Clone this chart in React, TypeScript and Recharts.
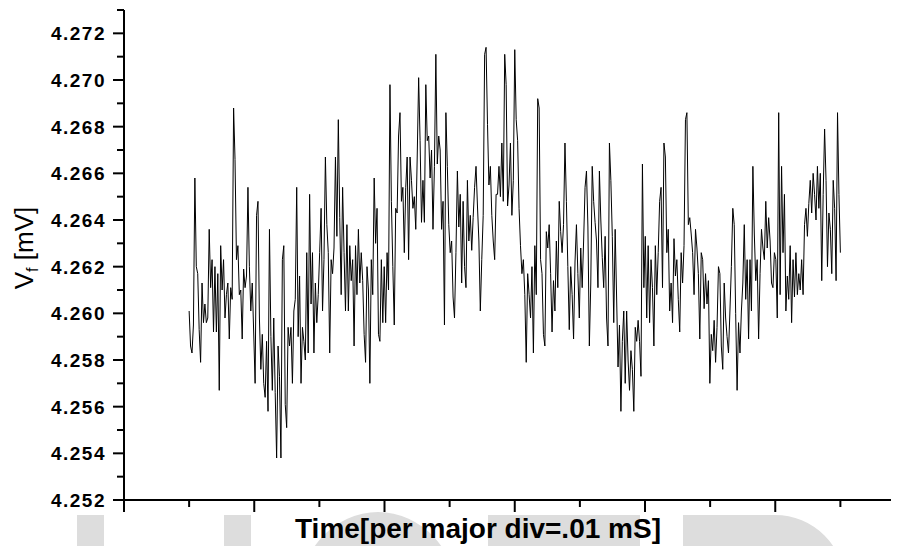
import { Line, LineChart, XAxis, YAxis } from 'recharts'

// V_f samples left to right (mV)
const segA = [
  4.2601, 4.2586, 4.2583, 4.2595, 4.2658, 4.262, 4.2617, 4.2593, 4.2579, 4.2613,
  4.2596, 4.2604, 4.2596, 4.2598, 4.2636, 4.2611, 4.2623, 4.2592, 4.262, 4.2592,
  4.2617, 4.2567, 4.2629, 4.261, 4.2623, 4.2598, 4.2608, 4.2613, 4.2589, 4.2611,
  4.2606, 4.2688, 4.2666, 4.2623, 4.2629, 4.2608, 4.261, 4.2589, 4.2619, 4.2611,
  4.2616, 4.2654, 4.262, 4.2601, 4.2613, 4.2592, 4.257, 4.2642, 4.2648, 4.2598,
  4.2576, 4.2591, 4.257, 4.2564, 4.2588, 4.2558, 4.2636, 4.259, 4.2567, 4.2598,
  4.2566, 4.2538, 4.2586, 4.2573, 4.2538, 4.2623, 4.2629, 4.2561,
]
const segB = [
  4.2551, 4.2594, 4.2586, 4.2594, 4.257, 4.2601, 4.2606, 4.2654, 4.259, 4.2616,
  4.257, 4.2594, 4.2588, 4.258, 4.2626, 4.2583, 4.2651, 4.2604, 4.2626, 4.2583,
  4.2613, 4.2596, 4.2608, 4.2626, 4.2645, 4.2601, 4.2623, 4.2667, 4.2638, 4.2626,
  4.2583, 4.2623, 4.2617, 4.2628, 4.2667, 4.2633, 4.2683, 4.2641, 4.2608, 4.2654,
  4.2626, 4.2601, 4.2638, 4.2601, 4.2629, 4.2614, 4.2623, 4.2586, 4.2629, 4.2608,
  4.2636, 4.2613, 4.2626, 4.2614, 4.2591, 4.2579, 4.262, 4.261, 4.257, 4.2623,
  4.2608, 4.2658, 4.263, 4.2645, 4.2591, 4.2588, 4.2623, 4.2596, 4.262, 4.2596,
  4.2626, 4.261, 4.2698, 4.2648,
]
const segC = [
  4.262, 4.2595, 4.2645, 4.2643, 4.2676, 4.2686, 4.2648, 4.2654, 4.2626, 4.2654,
  4.2667, 4.2623, 4.2667, 4.2657, 4.2645, 4.265, 4.2636, 4.2667, 4.2701, 4.2674,
  4.2639, 4.2657, 4.2639, 4.2698, 4.2674, 4.2676, 4.2658, 4.267, 4.2636, 4.2663,
  4.2711, 4.2664, 4.2676, 4.267, 4.2636, 4.2648, 4.2595, 4.2686, 4.2663, 4.2638,
  4.2626, 4.2631, 4.2607, 4.2598, 4.2626, 4.2661, 4.2637, 4.2651, 4.2613, 4.2648,
  4.262, 4.2611, 4.2657, 4.2631, 4.2642, 4.2627, 4.2641, 4.2654, 4.2663, 4.2646,
  4.2631, 4.2601, 4.2623, 4.2642, 4.2711, 4.2714, 4.2681, 4.2655, 4.2663, 4.2642,
  4.2631, 4.2623, 4.2651, 4.2651, 4.2663, 4.265, 4.2673, 4.2648,
]
const segD = [
  4.2711, 4.2698, 4.2646, 4.2655, 4.2673, 4.2642, 4.2657, 4.2713, 4.2683, 4.2674,
  4.2645, 4.2629, 4.2617, 4.2623, 4.2608, 4.2579, 4.2617, 4.2608, 4.2598, 4.262,
  4.2583, 4.2629, 4.2608, 4.2692, 4.2688, 4.2623, 4.2617, 4.2591, 4.2586, 4.2635,
  4.2628, 4.2638, 4.2617, 4.2592, 4.2614, 4.2601, 4.2631, 4.2611, 4.2648, 4.2635,
  4.2626, 4.2638, 4.2673, 4.2648, 4.262, 4.2593, 4.262, 4.2608, 4.2589, 4.2622,
  4.2638, 4.2617, 4.2598, 4.2628, 4.2611, 4.2631, 4.2654, 4.2661, 4.2637, 4.2586,
  4.2613, 4.2663, 4.2648, 4.2639, 4.2631, 4.2611, 4.2661, 4.264, 4.2624, 4.2611,
  4.2633, 4.2598,
]
const segE = [
  4.2586, 4.2673, 4.2657, 4.2633, 4.2596, 4.2636, 4.2607, 4.2577, 4.2595, 4.2558,
  4.2588, 4.2601, 4.257, 4.2601, 4.258, 4.2567, 4.2584, 4.2576, 4.2558, 4.2594,
  4.2588, 4.2597, 4.2588, 4.2573, 4.2664, 4.2611, 4.2633, 4.2598, 4.2629, 4.2596,
  4.2623, 4.2611, 4.2586, 4.2629, 4.2608, 4.2626, 4.2648, 4.2654, 4.2611, 4.2673,
  4.2667, 4.2626, 4.2636, 4.2601, 4.2613, 4.2596, 4.2632, 4.2616, 4.2623, 4.2606,
  4.2592, 4.2626, 4.2613, 4.2629, 4.2683, 4.2686, 4.2638, 4.2641, 4.2634, 4.2626,
  4.2608, 4.2636, 4.2628, 4.2617, 4.2589, 4.2626, 4.2623, 4.2602, 4.2617, 4.2604,
  4.2614, 4.257, 4.2591, 4.2584, 4.2597, 4.2579, 4.2594, 4.262, 4.2617, 4.2586,
  4.2576, 4.2613,
]
const segF = [
  4.2598, 4.259, 4.2583, 4.2601, 4.262, 4.2645, 4.2638, 4.26, 4.2567, 4.2596,
  4.2583, 4.2601, 4.2613, 4.2638, 4.2606, 4.2623, 4.2589, 4.2623, 4.2601, 4.2663,
  4.2634, 4.2614, 4.2623, 4.2589, 4.2617, 4.2636, 4.2628, 4.2623, 4.2648, 4.2628,
  4.2641, 4.2631, 4.2613, 4.2611, 4.2626, 4.2623, 4.2598, 4.2686, 4.2608, 4.2663,
  4.2626, 4.2651, 4.2601, 4.2616, 4.2606, 4.2629, 4.2596, 4.2623, 4.2607, 4.2626,
  4.2608, 4.2617, 4.261, 4.2623, 4.2608, 4.2638, 4.2645, 4.2633, 4.2647, 4.2657,
  4.2643, 4.266, 4.2651, 4.264, 4.2663, 4.2645, 4.266, 4.2614, 4.2651, 4.2679,
  4.2657, 4.262, 4.2643, 4.2636, 4.2617, 4.2657, 4.2645, 4.2614, 4.2686, 4.2651,
  4.2626,
]

// time span covered by the record, in major divisions
const tFirst = 0.5
const tLast = 5.5

const xTicks = [0, 0.5, 1, 1.5, 2, 2.5, 3, 3.5, 4, 4.5, 5, 5.5]
const yTicks = [
  4.252, 4.253, 4.254, 4.255, 4.256, 4.257, 4.258, 4.259, 4.26, 4.261, 4.262,
  4.263, 4.264, 4.265, 4.266, 4.267, 4.268, 4.269, 4.27, 4.271, 4.272, 4.273,
]

const vf = [...segA, ...segB, ...segC, ...segD, ...segE, ...segF]
const data = vf.map((v, i) => ({
  t: tFirst + (i * (tLast - tFirst)) / (vf.length - 1),
  v,
}))

const font = '"Liberation Sans", Arial, sans-serif'
const W = 891
const H = 538
const grey = '#dddddd'

function XTick(props: any) {
  const { x, y, payload } = props
  const major = Number.isInteger(payload.value)
  return <line x1={x} x2={x} y1={y} y2={y + (major ? 12 : 7)} stroke="#000" strokeWidth={2} />
}

function YTick(props: any) {
  const { x, y, payload } = props
  const major = Math.round(payload.value * 1000) % 2 === 0
  return (
    <g>
      <line x1={x - (major ? 11 : 7)} x2={x} y1={y} y2={y} stroke="#000" strokeWidth={2} />
      {major && (
        <text
          x={x - 18}
          y={y}
          dy="0.36em"
          textAnchor="end"
          fontFamily={font}
          fontWeight="bold"
          fontSize={19}
          letterSpacing={1.5}
          fill="#000"
        >
          {payload.value.toFixed(3)}
        </text>
      )}
    </g>
  )
}

export default function App() {
  return (
    <div style={{ position: 'relative', width: W, height: H }}>
      <svg width={W} height={H} style={{ position: 'absolute', left: 0, top: 0 }}>
        {/* faint watermark letters along the bottom */}
        <rect x={69} y={507} width={27} height={40} fill={grey} />
        <rect x={216} y={507} width={27} height={40} fill={grey} />
        <ellipse cx={370} cy={592} rx={80} ry={88} fill={grey} />
        <rect x={480} y={507} width={152} height={40} fill={grey} />
        <path d="M675,540 V507 H767 A70,70 0 0 1 837,577 V540 Z" fill={grey} />
        <text
          transform="translate(25,240) rotate(-90)"
          textAnchor="middle"
          fontFamily={font}
          fontSize={26}
          fill="#000"
        >
          V<tspan fontSize={16} dy={5}>f</tspan>
          <tspan dy={-5}> [mV]</tspan>
        </text>
        <text
          x={470}
          y={530}
          textAnchor="middle"
          fontFamily={font}
          fontWeight="bold"
          fontSize={28}
          fill="#000"
        >
          Time[per major div=.01 mS]
        </text>
      </svg>
      <div style={{ position: 'absolute', left: 0, top: 0 }}>
        <LineChart width={W} height={H} data={data} margin={{ top: 2, right: 0, bottom: 0, left: 0 }}>
          <XAxis
            type="number"
            dataKey="t"
            domain={[0, 5.95]}
            allowDataOverflow
            ticks={xTicks}
            interval={0}
            tickSize={0}
            tickMargin={0}
            tickLine={false}
            tick={<XTick />}
            axisLine={{ stroke: '#000', strokeWidth: 2 }}
            height={46}
          />
          <YAxis
            type="number"
            dataKey="v"
            domain={[4.252, 4.273]}
            allowDataOverflow
            ticks={yTicks}
            interval={0}
            tickSize={0}
            tickMargin={0}
            tickLine={false}
            tick={<YTick />}
            axisLine={{ stroke: '#000', strokeWidth: 2 }}
            width={116}
          />
          <Line
            type="linear"
            dataKey="v"
            stroke="#000"
            strokeWidth={1}
            dot={false}
            isAnimationActive={false}
          />
        </LineChart>
      </div>
    </div>
  )
}
